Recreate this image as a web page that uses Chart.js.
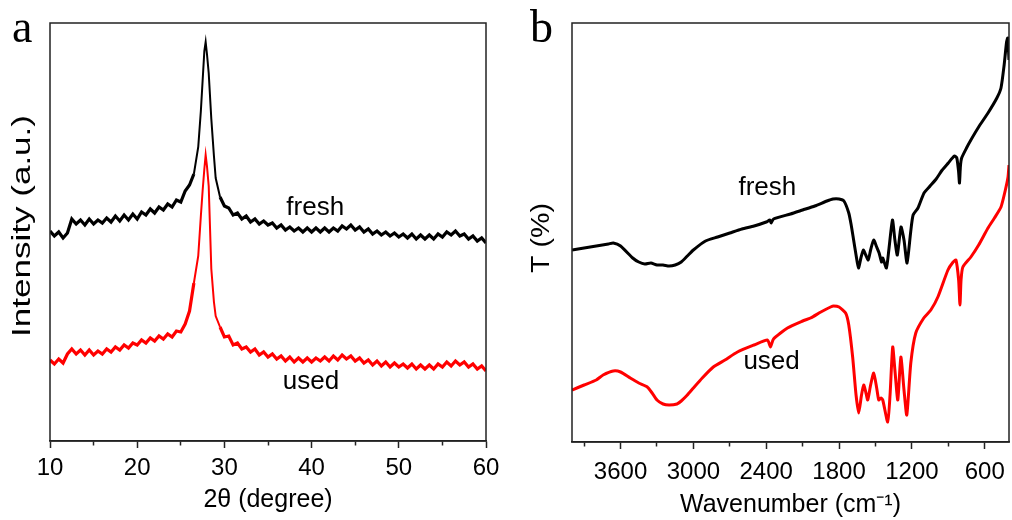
<!DOCTYPE html>
<html>
<head>
<meta charset="utf-8">
<script src="https://cdn.jsdelivr.net/npm/chart.js@4/dist/chart.umd.min.js"></script>
<style>
  body { margin: 0; background: #fff; }
  canvas { position: absolute; top: 0; }
</style>
</head>
<body>
<canvas id="xrd" width="506" height="520" style="left:0;width:506px;height:520px"></canvas>
<canvas id="ftir" width="506" height="520" style="left:506px;width:506px;height:520px"></canvas>
<script>
// XRD (panel a) - 2theta grid and intensities (a.u.)
const xrdAngle = [10, 10.5, 11, 11.5, 12, 12.5, 13, 13.5, 14, 14.5, 15, 15.5, 16, 16.5, 17, 17.5,
  18, 18.5, 19, 19.5, 20, 20.5, 21, 21.5, 22, 22.5, 23, 23.5, 24, 24.5, 25, 25.5, 26, 26.5,
  27, 27.3, 27.5, 27.7, 27.85, 28, 28.2, 28.5, 28.8, 29, 29.5,
  30, 30.5, 31, 31.5, 32, 32.5, 33, 33.5, 34, 34.5, 35, 35.5, 36, 36.5, 37, 37.5, 38, 38.5,
  39, 39.5, 40, 40.5, 41, 41.5, 42, 42.5, 43, 43.5, 44, 44.5, 45, 45.5, 46, 46.5, 47, 47.5,
  48, 48.5, 49, 49.5, 50, 50.5, 51, 51.5, 52, 52.5, 53, 53.5, 54, 54.5, 55, 55.5, 56, 56.5,
  57, 57.5, 58, 58.5, 59, 59.5, 60];
const xrdFresh = [210, 205, 209, 203, 208, 222, 217, 221, 216, 222, 217, 221, 218, 223, 219, 225,
  220, 226, 221, 227, 222, 229, 226, 232, 228, 234, 231, 237, 234, 241, 239, 250, 256, 267,
  294, 330, 360, 390, 399, 387, 368, 322, 285, 263, 244,
  235, 233, 226, 228, 222, 225, 219, 222, 217, 220, 216, 218, 213, 216, 211, 214, 210, 213,
  209, 213, 209, 213, 209, 213, 209, 213, 210, 215, 212, 216, 211, 214, 209, 212, 207, 210,
  206, 209, 205, 208, 204, 207, 203, 207, 202, 206, 202, 206, 202, 207, 204, 209, 206, 210,
  205, 207, 202, 205, 200, 203, 198];
const xrdUsed = [81, 77, 82, 78, 87, 92, 87, 91, 86, 91, 86, 90, 87, 92, 89, 94,
  91, 96, 93, 98, 96, 101, 98, 103, 100, 105, 102, 107, 104, 110, 109, 117, 130, 158,
  185, 225, 250, 272, 286, 275, 255, 172, 139, 125, 114,
  104, 105, 96, 98, 92, 94, 89, 92, 86, 89, 84, 87, 82, 85, 80, 84, 79, 83,
  79, 83, 79, 83, 80, 84, 80, 85, 81, 86, 82, 85, 80, 83, 78, 81, 76, 80,
  75, 79, 74, 78, 74, 77, 73, 77, 72, 76, 72, 76, 72, 77, 74, 79, 75, 80,
  76, 79, 74, 77, 72, 75, 70];
const xrdTicks = [10, 15, 20, 25, 30, 35, 40, 45, 50, 55, 60];
const xrdLabels = [10, 20, 30, 40, 50, 60];

// FTIR (panel b) - wavenumber (cm-1) and transmittance (a.u.)
const ftirFreshWn = [4000, 3900, 3800, 3700, 3660, 3600, 3500, 3450, 3400, 3350, 3300, 3250, 3200,
  3150, 3100, 3050, 3000, 2900, 2800, 2700, 2600, 2500, 2400, 2370, 2360, 2340, 2200, 2100,
  2000, 1900, 1850, 1800, 1760, 1720, 1700, 1680, 1660, 1640, 1620, 1600, 1580, 1560, 1540,
  1515, 1490, 1470, 1450, 1440, 1410, 1390, 1360, 1340, 1320, 1290, 1265, 1240, 1210, 1190,
  1150, 1100, 1050, 1000, 950, 900, 850, 830, 815, 808, 800, 790, 750, 714, 650, 573, 500,
  466, 440, 420, 410, 400];
const ftirFresh = [192, 194, 196, 198, 199, 196, 184, 180, 178, 179, 177, 177, 176,
  177, 180, 186, 192, 201, 205, 209, 213, 216, 220, 222, 219, 223, 228, 232,
  236, 241, 243, 243, 241, 229, 217, 202, 187, 174, 184, 192, 187, 182, 192,
  202, 195, 189, 180, 184, 174, 192, 222, 202, 187, 215, 202, 179, 210, 227,
  234, 249, 256, 263, 272, 279, 286, 284, 270, 259, 276, 284, 294, 302, 315, 329, 344,
  354, 377, 400, 404, 382];
const ftirUsedWn = [4000, 3900, 3800, 3744, 3660, 3600, 3520, 3450, 3380, 3340, 3300, 3250, 3200,
  3135, 3100, 3050, 3000, 2927, 2836, 2740, 2637, 2500, 2390, 2365, 2340, 2225, 2100, 2035,
  1950, 1870, 1845, 1800, 1746, 1720, 1688, 1660, 1638, 1615, 1597, 1580, 1564, 1540, 1514,
  1490, 1473, 1455, 1440, 1399, 1380, 1358, 1340, 1316, 1291, 1265, 1242, 1209, 1168, 1102,
  1044, 986, 903, 860, 837, 815, 804, 795, 780, 714, 650, 573, 520, 466, 430, 408, 400];
const ftirUsed = [52, 57, 62, 67, 71, 70, 64, 59, 55, 49, 42, 38, 37,
  38, 41, 47, 54, 64, 75, 82, 90, 97, 102, 95, 103, 114, 121, 124,
  130, 135, 136, 135, 129, 117, 85, 47, 29, 47, 57, 50, 42, 57, 69,
  54, 42, 44, 42, 20, 47, 95, 72, 42, 85, 52, 27, 79, 109, 124,
  132, 145, 172, 180, 182, 162, 137, 162, 175, 185, 197, 214, 224, 235, 252, 265, 277];
const ftirTicks = [600, 900, 1200, 1500, 1800, 2100, 2400, 2700, 3000, 3300, 3600, 3900];
const ftirLabels = [600, 1200, 1800, 2400, 3000, 3600];

const FONT = '"Liberation Sans", Arial, sans-serif';

// panel letter, stretched y title, curve labels and the plot frame
const panelText = {
  id: 'panelText',
  afterDraw(chart, args, o) {
    const ctx = chart.ctx;
    const {left, top, right, bottom} = chart.chartArea;
    ctx.save();
    ctx.strokeStyle = '#222';
    ctx.lineWidth = 1.5;
    ctx.strokeRect(left, top, right - left, bottom - top);

    ctx.fillStyle = '#000';
    ctx.font = '46px "Liberation Serif", "Times New Roman", serif';
    ctx.textAlign = 'left';
    ctx.textBaseline = 'alphabetic';
    ctx.fillText(o.letter, o.letterX, 42);

    ctx.font = '26px ' + FONT;
    o.notes.forEach(n => {
      ctx.fillText(n.text, chart.scales.x.getPixelForValue(n.x), chart.scales.y.getPixelForValue(n.y));
    });

    ctx.translate(o.titleX, o.titleY);
    ctx.rotate(-Math.PI / 2);
    ctx.font = '25px ' + FONT;
    const w = ctx.measureText(o.title).width;
    ctx.scale(o.titleLen / w, 1);
    ctx.textAlign = 'center';
    ctx.textBaseline = 'middle';
    ctx.fillText(o.title, 0, 0);
    ctx.restore();
  }
};

function xAxis(tickList, labelList, extra) {
  return Object.assign({
    type: 'linear',
    afterBuildTicks: s => { s.ticks = tickList.map(v => ({value: v})); },
    ticks: {
      autoSkip: false,
      maxRotation: 0,
      padding: extra.tickPad,
      color: '#000',
      font: {family: FONT, size: 24},
      callback: v => labelList.includes(v) ? String(v) : ''
    },
    grid: {
      drawOnChartArea: false,
      drawTicks: true,
      tickLength: 7,
      tickWidth: 1.5,
      tickColor: '#222',
      tickBorderDash: c => (c.tick && labelList.includes(c.tick.value)) ? [] : [4, 20]
    },
    border: {display: true, color: '#222', width: 1.5},
    title: {display: true, text: extra.titleText, color: '#000', font: {family: FONT, size: 25},
      padding: {top: 0, bottom: extra.titlePad}}
  }, extra.range);
}

function pairs(xs, ys) {
  return xs.map((x, i) => ({x: x, y: ys[i]}));
}

// noisy baseline drawn as a thicker band, the sharp (002) peak thinner
const xrdSegment = {
  borderWidth: s => (s.p0.parsed.x >= 26.5 && s.p1.parsed.x <= 29.5) ? 2 : 3.2
};

new Chart(document.getElementById('xrd'), {
  type: 'line',
  data: {
    datasets: [
      {data: pairs(xrdAngle, xrdFresh), borderColor: '#000', borderWidth: 3, pointRadius: 0, tension: 0, segment: xrdSegment},
      {data: pairs(xrdAngle, xrdUsed), borderColor: '#ff0000', borderWidth: 3, pointRadius: 0, tension: 0, segment: xrdSegment}
    ]
  },
  options: {
    responsive: false,
    animation: false,
    devicePixelRatio: 1,
    layout: {padding: {left: 50, right: 20, top: 23, bottom: 0}},
    scales: {
      x: xAxis(xrdTicks, xrdLabels, {
        tickPad: 6, titlePad: 5, titleText: '2\u03b8 (degree)',
        range: {min: 10, max: 60, afterFit: s => { s.height = 79; }}
      }),
      y: {display: false, min: 0, max: 418}
    },
    plugins: {
      legend: {display: false},
      tooltip: {enabled: false},
      panelText: {
        letter: 'a', letterX: 12,
        title: 'Intensity (a.u.)', titleX: 23, titleY: 226, titleLen: 222,
        notes: [{text: 'fresh', x: 37.1, y: 226}, {text: 'used', x: 36.7, y: 52}]
      }
    }
  },
  plugins: [panelText]
});

new Chart(document.getElementById('ftir'), {
  type: 'line',
  data: {
    datasets: [
      {data: pairs(ftirFreshWn, ftirFresh), borderColor: '#000', borderWidth: 3, pointRadius: 0, tension: 0.2},
      {data: pairs(ftirUsedWn, ftirUsed), borderColor: '#ff0000', borderWidth: 3, pointRadius: 0, tension: 0.2}
    ]
  },
  options: {
    responsive: false,
    animation: false,
    devicePixelRatio: 1,
    layout: {padding: {left: 66, right: 3, top: 23, bottom: 0}},
    scales: {
      x: xAxis(ftirTicks, ftirLabels, {
        tickPad: 9, titlePad: 0, titleText: 'Wavenumber (cm\u207b\u00b9)',
        range: {min: 400, max: 4000, reverse: true, afterFit: s => { s.height = 78; }}
      }),
      y: {display: false, min: 0, max: 419}
    },
    plugins: {
      legend: {display: false},
      tooltip: {enabled: false},
      panelText: {
        letter: 'b', letterX: 24,
        title: 'T (%)', titleX: 36, titleY: 238, titleLen: 70,
        notes: [{text: 'fresh', x: 2629, y: 247}, {text: 'used', x: 2588, y: 73}]
      }
    }
  },
  plugins: [panelText]
});
</script>
</body>
</html>
